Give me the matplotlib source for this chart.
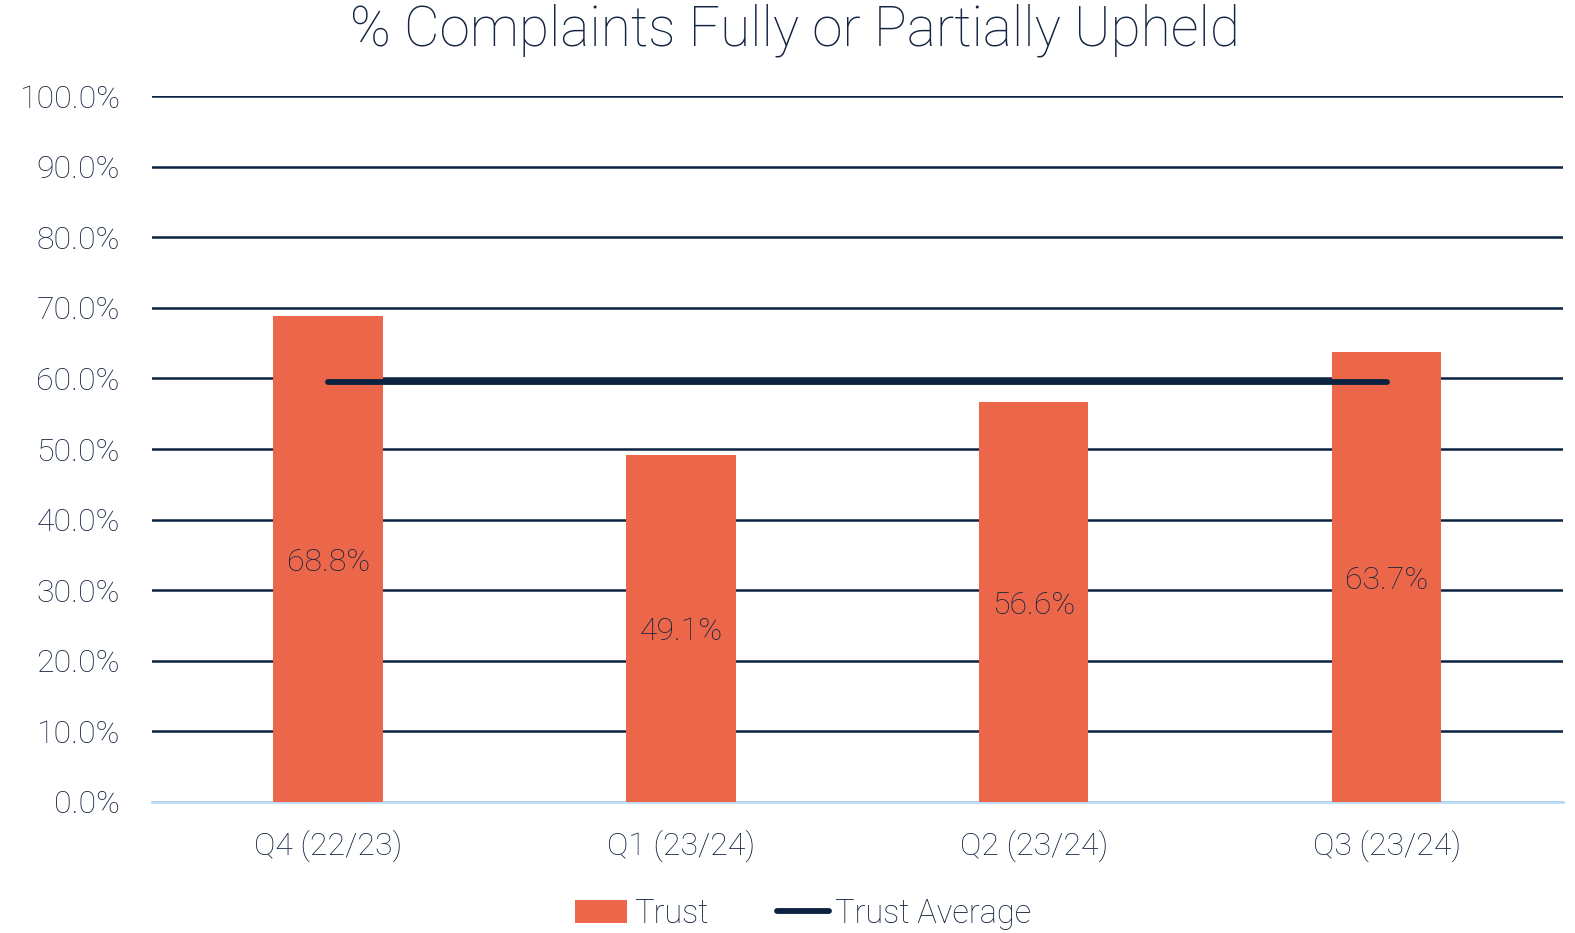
import numpy as np
import matplotlib.pyplot as plt
from matplotlib.ticker import PercentFormatter

plt.rcParams['font.family'] = ['Roboto', 'DejaVu Sans']
plt.rcParams['font.weight'] = 'light'

# data
quarters = ["Q4 (22/23)", "Q1 (23/24)", "Q2 (23/24)", "Q3 (23/24)"]
trust = [68.8, 49.1, 56.6, 63.7]
trust_avg = [59.5, 59.5, 59.5, 59.5]

bar_col = "#EC664A"
navy = "#0B2341"
txt = "#132440"

fig = plt.figure(figsize=(15.75, 9.33), dpi=100)
ax = fig.add_axes([0.0963, 0.1408, 0.8961, 0.7559])

x = np.arange(len(quarters))
bars = ax.bar(x, trust, width=0.31, color=bar_col, zorder=3, label="Trust")
avg_line, = ax.plot(x, trust_avg, color=navy, lw=4.2, solid_capstyle="round",
                    zorder=4, label="Trust Average")

for b, v in zip(bars, trust):
    ax.text(b.get_x() + b.get_width() / 2, v / 2, f"{v:.1f}%", ha="center",
            va="center_baseline", fontsize=23, color=txt, zorder=5)

ax.set_xlim(-0.5, len(quarters) - 0.5)
ax.set_ylim(0, 100)
ax.set_yticks(np.arange(0, 101, 10))
ax.yaxis.set_major_formatter(PercentFormatter(decimals=1))
ax.set_xticks(x)
ax.set_xticklabels(quarters)
ax.tick_params(axis="both", length=0, labelsize=23, colors=txt)
ax.tick_params(axis="y", pad=23)
ax.tick_params(axis="x", pad=20)

ax.yaxis.grid(True, color=navy, lw=1.8, zorder=1)
ax.set_axisbelow(True)
for s in ["top", "right", "left"]:
    ax.spines[s].set_visible(False)
ax.spines["bottom"].set_color("#BDDDF6")
ax.spines["bottom"].set_linewidth(2)
ax.spines["bottom"].set_zorder(2)

fig.text(0.505, 0.968, "% Complaints Fully or Partially Upheld", fontsize=39.5,
         color=txt, ha="center", va="center", fontweight="light")

leg = fig.legend([bars, avg_line], ["Trust", "Trust Average"],
                 loc="lower center", bbox_to_anchor=(0.51, -0.028), ncol=2,
                 frameon=False, fontsize=23.5, handlelength=1.6, handletextpad=0.2,
                 columnspacing=2.1)
for t in leg.get_texts():
    t.set_color(txt)

fig.savefig("out.png", dpi=100)
